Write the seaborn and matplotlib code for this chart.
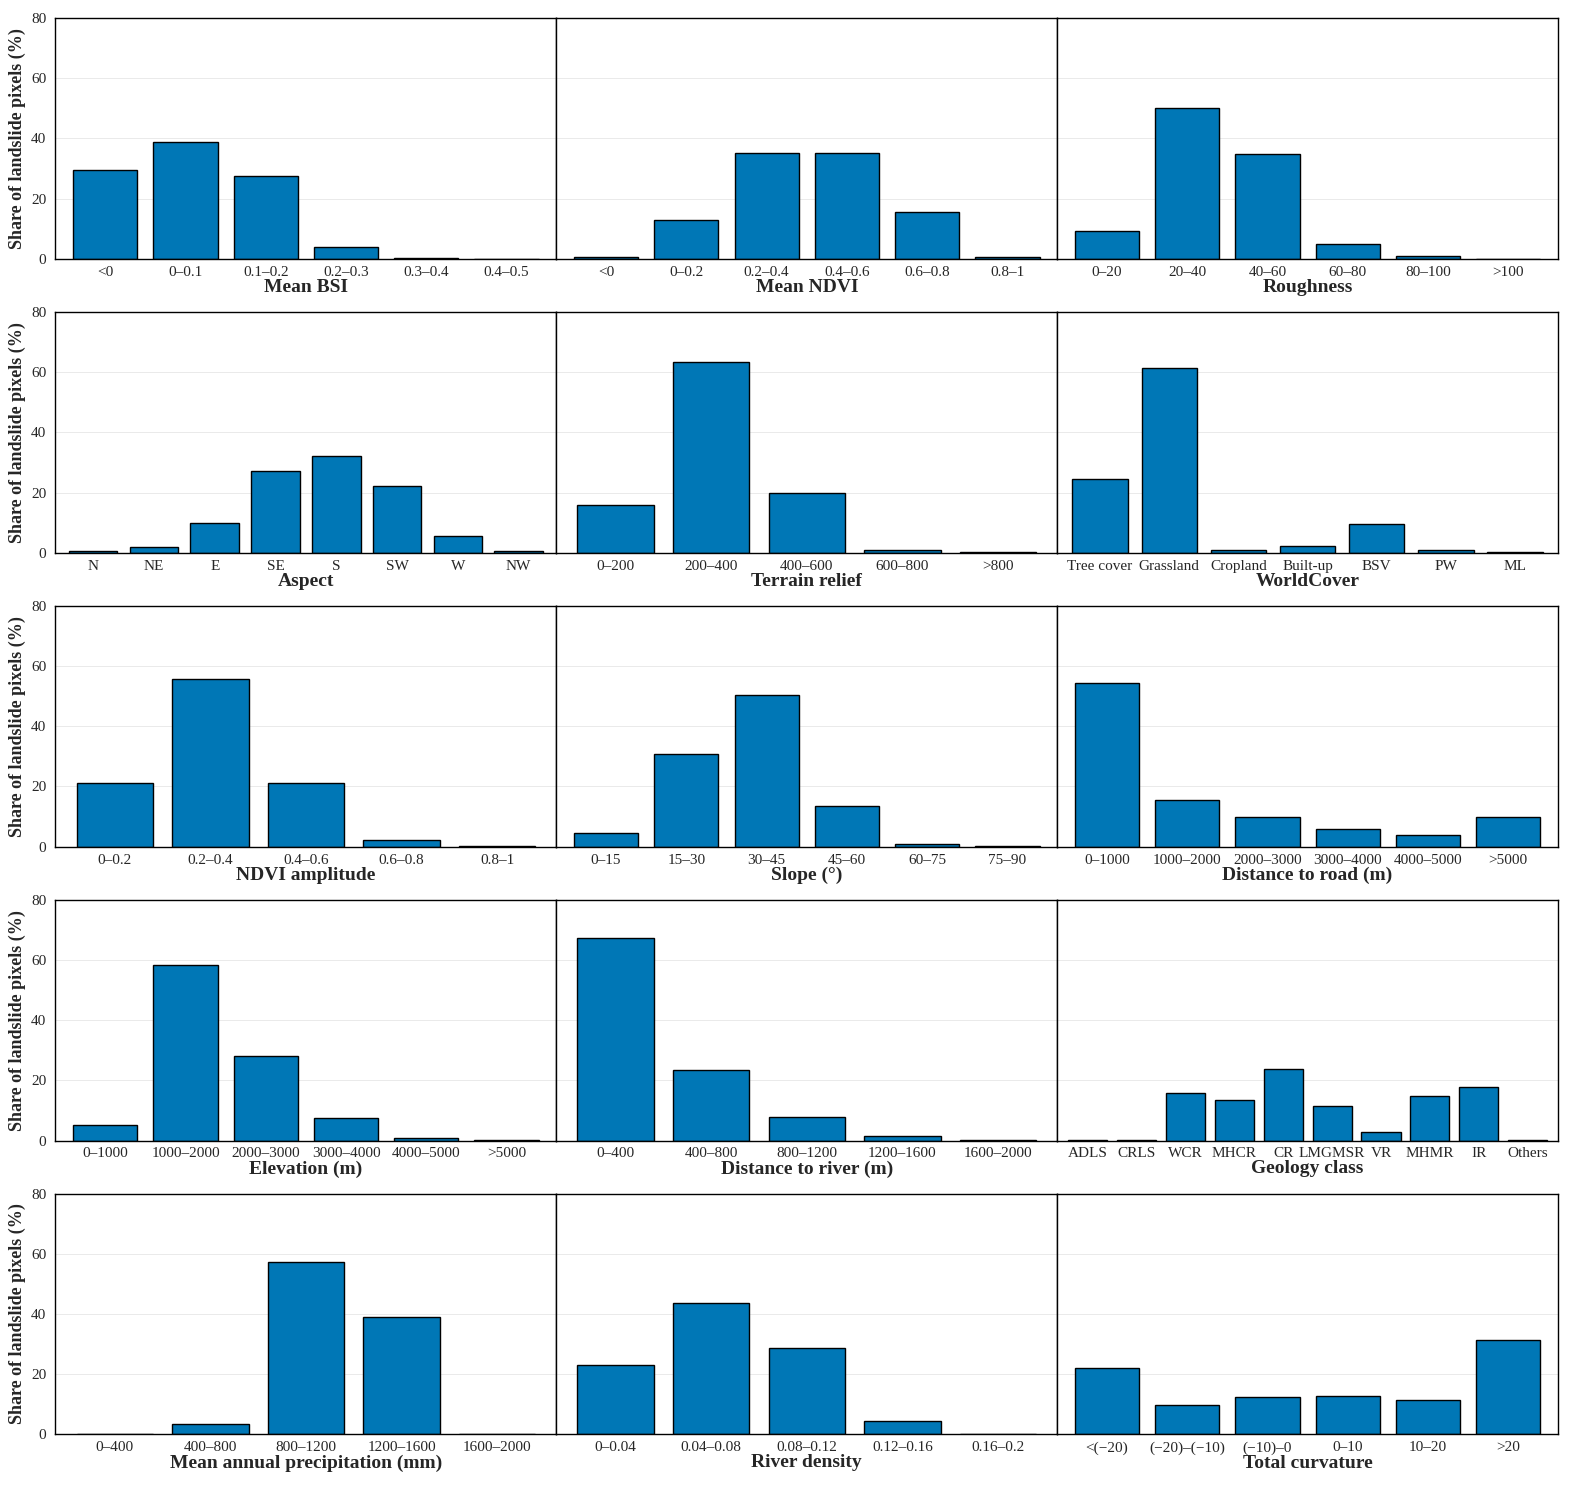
import pandas as pd
import matplotlib.pyplot as plt
import seaborn as sns

sns.set_style('white')
plt.rcParams['font.family'] = ['Liberation Serif', 'DejaVu Serif']

bsi_cats = ['<0', '0–0.1', '0.1–0.2', '0.2–0.3', '0.3–0.4', '0.4–0.5']
bsi_vals = [29.5, 38.8, 27.6, 3.8, 0.2, 0.1]
ndvi_cats = ['<0', '0–0.2', '0.2–0.4', '0.4–0.6', '0.6–0.8', '0.8–1']
ndvi_vals = [0.6, 12.8, 35.2, 35.3, 15.6, 0.5]
rough_cats = ['0–20', '20–40', '40–60', '60–80', '80–100', '>100']
rough_vals = [9.2, 50.0, 35.0, 5.0, 0.8, 0.1]
aspect_cats = ['N', 'NE', 'E', 'SE', 'S', 'SW', 'W', 'NW']
aspect_vals = [0.5, 2.0, 10.0, 27.0, 32.0, 22.3, 5.5, 0.7]
relief_cats = ['0–200', '200–400', '400–600', '600–800', '>800']
relief_vals = [15.8, 63.2, 20.0, 0.9, 0.1]
wc_cats = ['Tree cover', 'Grassland', 'Cropland', 'Built-up', 'BSV', 'PW', 'ML']
wc_vals = [24.6, 61.5, 1.0, 2.2, 9.6, 0.8, 0.3]
amp_cats = ['0–0.2', '0.2–0.4', '0.4–0.6', '0.6–0.8', '0.8–1']
amp_vals = [21.0, 55.7, 21.0, 2.3, 0.1]
slope_cats = ['0–15', '15–30', '30–45', '45–60', '60–75', '75–90']
slope_vals = [4.4, 30.7, 50.5, 13.5, 1.0, 0.1]
road_cats = ['0–1000', '1000–2000', '2000–3000', '3000–4000', '4000–5000', '>5000']
road_vals = [54.5, 15.5, 10.0, 6.0, 4.0, 10.0]
elev_cats = ['0–1000', '1000–2000', '2000–3000', '3000–4000', '4000–5000', '>5000']
elev_vals = [5.3, 58.3, 28.0, 7.6, 0.8, 0.1]
river_cats = ['0–400', '400–800', '800–1200', '1200–1600', '1600–2000']
river_vals = [67.2, 23.3, 7.9, 1.4, 0.1]
geo_cats = ['ADLS', 'CRLS', 'WCR', 'MHCR', 'CR', 'LMGMSR', 'VR', 'MHMR', 'IR', 'Others']
geo_vals = [0.2, 0.1, 15.7, 13.4, 23.8, 11.6, 2.8, 14.7, 17.7, 0.2]
prec_cats = ['0–400', '400–800', '800–1200', '1200–1600', '1600–2000']
prec_vals = [0.1, 3.4, 57.2, 39.1, 0.2]
rd_cats = ['0–0.04', '0.04–0.08', '0.08–0.12', '0.12–0.16', '0.16–0.2']
rd_vals = [23.1, 43.7, 28.7, 4.4, 0.1]
curv_cats = ['<(−20)', '(−20)–(−10)', '(−10)–0', '0–10', '10–20', '>20']
curv_vals = [22.2, 9.8, 12.3, 12.9, 11.5, 31.3]

panels = [
    ('Mean BSI', bsi_cats, bsi_vals), ('Mean NDVI', ndvi_cats, ndvi_vals),
    ('Roughness', rough_cats, rough_vals),
    ('Aspect', aspect_cats, aspect_vals), ('Terrain relief', relief_cats, relief_vals),
    ('WorldCover', wc_cats, wc_vals),
    ('NDVI amplitude', amp_cats, amp_vals), ('Slope (°)', slope_cats, slope_vals),
    ('Distance to road (m)', road_cats, road_vals),
    ('Elevation (m)', elev_cats, elev_vals), ('Distance to river (m)', river_cats, river_vals),
    ('Geology class', geo_cats, geo_vals),
    ('Mean annual precipitation (mm)', prec_cats, prec_vals),
    ('River density', rd_cats, rd_vals), ('Total curvature', curv_cats, curv_vals),
]

fig, axes = plt.subplots(5, 3, figsize=(15.85, 15.02), sharey=True)
fig.subplots_adjust(left=0.035, right=0.983, top=0.988, bottom=0.045, wspace=0, hspace=0.22)

for ax, (name, cats, vals) in zip(axes.flat, panels):
    df = pd.DataFrame({'cat': cats, 'val': vals})
    sns.barplot(data=df, x='cat', y='val', ax=ax, color='#0077b6', saturation=1,
                edgecolor='black', linewidth=1.0, width=0.8)
    ax.set_ylim(0, 80)
    ax.set_yticks([0, 20, 40, 60, 80])
    ax.yaxis.grid(True, color='#e6e6e6', linewidth=0.6)
    ax.set_axisbelow(True)
    ax.set_xlim(-0.62, len(cats) - 0.38)
    ax.set_xlabel(name, fontsize=14, fontweight='bold', labelpad=0)
    ax.set_ylabel('')
    ax.tick_params(axis='x', labelsize=11, length=3, pad=2)
    ax.tick_params(axis='y', labelsize=11, length=3)
    for s in ax.spines.values():
        s.set_color('black')
        s.set_linewidth(1.0)

for ax in axes[:, 0]:
    ax.set_ylabel('Share of landslide pixels (%)', fontsize=13, fontweight='bold', labelpad=4)

plt.savefig('out.png', dpi=100)
